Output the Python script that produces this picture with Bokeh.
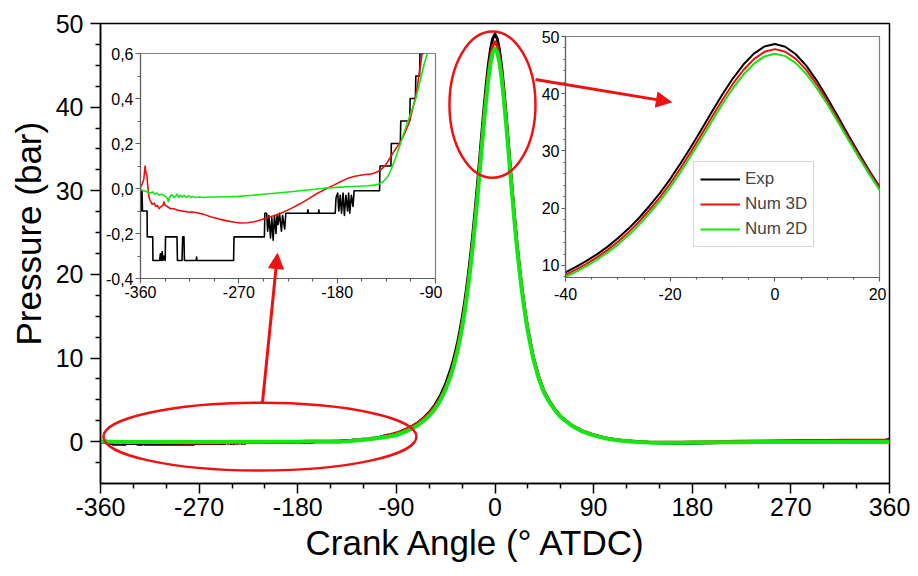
from bokeh.plotting import figure
from bokeh.models import (Range1d, FixedTicker, CustomJSTickFormatter, Legend, LegendItem,
                          Arrow, NormalHead, Title)
from bokeh.embed import file_html
from bokeh.resources import INLINE

# ---------------- data ----------------
series_names = ["Exp", "Num 3D", "Num 2D"]

# low-pressure part, -360 .. -90 deg (as seen in the left inset)
exp_lo_angle = [-360, -359.6, -359.0, -358.6, -358.2, -354.0, -353.8, -348.8, -348.6, -342.5, -341.8, -341.0,
                -340.2, -339.5, -338.6, -337.4, -337.1, -326.6, -326.2, -322.0, -321.4, -320.2, -319.8, -309.0,
                -308.7, -308.3, -274.8, -274.4, -246.6, -246.2, -244.5, -243.6, -242.5, -241.0, -239.8, -238.6,
                -237.4, -236.0, -235.0, -234.0, -232.8, -231.0, -230.0, -228.0, -227.0, -207.2, -206.8, -206.3,
                -197.2, -196.8, -196.3, -181.8, -181.0, -179.5, -178.5, -177.2, -176.0, -174.6, -173.4, -172.0,
                -170.5, -169.5, -168.5, -167.0, -165.5, -164.5, -141.2, -140.8, -130.8, -130.4, -122.2, -121.8,
                -113.6, -113.2, -108.4, -108.0, -104.6, -104.2, -101.6, -101.2, -98.4, -98.0, -95.2, -94.8,
                -92.2, -91.8]
exp_lo_value = [-0.01, -0.10, -0.10, -0.01, -0.10, -0.10, -0.215, -0.215, -0.32, -0.32, -0.29, -0.32,
                -0.28, -0.32, -0.30, -0.32, -0.215, -0.215, -0.32, -0.32, -0.215, -0.215, -0.32, -0.32,
                -0.305, -0.32, -0.32, -0.215, -0.215, -0.11, -0.11, -0.19, -0.12, -0.22, -0.13, -0.23,
                -0.12, -0.20, -0.12, -0.16, -0.11, -0.19, -0.12, -0.18, -0.11, -0.11, -0.095, -0.11,
                -0.11, -0.095, -0.11, -0.11, -0.04, -0.02, -0.10, -0.03, -0.11, -0.02, -0.12, -0.03,
                -0.10, -0.02, -0.11, -0.03, -0.08, -0.01, -0.01, 0.10, 0.10, 0.20, 0.20, 0.30,
                0.30, 0.40, 0.40, 0.50, 0.50, 0.60, 0.60, 0.70, 0.70, 0.80, 0.80, 0.90,
                0.90, 1.00]

num3d_lo_angle = [-360, -358.5, -357.0, -355.8, -355.0, -354.2, -353.5, -352.5, -351.5, -350.5, -349.3, -347.5,
                  -346.0, -344.5, -343.0, -341.0, -339.5, -338.6, -337.5, -335.5, -332.5, -329.5, -326.4, -322.0,
                  -317.3, -313.0, -308.1, -302.0, -295.9, -288.0, -280.7, -274.0, -268.5, -262.0, -256.3, -250.0,
                  -244.1, -236.0, -228.8, -221.0, -213.6, -206.0, -198.3, -190.5, -183.1, -177.0, -170.9, -164.8,
                  -158.7, -154.0, -149.5, -146.5, -143.4, -140.3, -137.3, -134.2, -131.2, -126.6, -122.0, -118.2,
                  -114.4, -111.3, -108.3, -106.3, -104.4, -102.2, -99.0, -96.0, -93.0]
num3d_lo_value = [0.005, 0.02, 0.04, 0.10, 0.07, 0.06, 0.02, -0.03, -0.05, -0.06, -0.07, -0.065,
                  -0.08, -0.075, -0.09, -0.08, -0.075, -0.06, -0.075, -0.08, -0.09, -0.09, -0.096, -0.10,
                  -0.104, -0.105, -0.108, -0.115, -0.126, -0.136, -0.144, -0.150, -0.153, -0.152, -0.148, -0.140,
                  -0.130, -0.118, -0.104, -0.086, -0.067, -0.045, -0.022, -0.002, 0.015, 0.030, 0.044, 0.053,
                  0.059, 0.062, 0.064, 0.068, 0.074, 0.083, 0.096, 0.115, 0.141, 0.175, 0.207, 0.245,
                  0.289, 0.345, 0.407, 0.465, 0.526, 0.60, 0.70, 0.80, 0.90]

num2d_lo_angle = [-360, -357, -354, -351, -349, -347, -345, -343, -341, -339, -337, -335.5,
                  -334.5, -333.5, -332, -331, -329.5, -328, -326.5, -325, -323.5, -322, -320, -318,
                  -316, -314, -312, -310, -306, -302, -296, -290, -280, -270, -260, -250,
                  -240, -230, -220, -210, -200, -190, -180, -170, -160, -152, -146, -142,
                  -138, -134, -131, -127, -122, -118, -113, -108, -104, -100.5, -97.5, -94]
num2d_lo_value = [-0.005, -0.01, -0.015, -0.02, -0.015, -0.025, -0.02, -0.03, -0.025, -0.03, -0.035, -0.045,
                  -0.058, -0.04, -0.03, -0.028, -0.04, -0.035, -0.025, -0.04, -0.03, -0.038, -0.03, -0.04,
                  -0.032, -0.04, -0.035, -0.04, -0.038, -0.04, -0.038, -0.038, -0.037, -0.035, -0.031, -0.027,
                  -0.022, -0.018, -0.013, -0.008, -0.003, 0.002, 0.005, 0.008, 0.010, 0.012, 0.015, 0.020,
                  0.030, 0.050, 0.080, 0.130, 0.200, 0.260, 0.330, 0.400, 0.480, 0.550, 0.600, 0.680]

# pressure around TDC, -90 .. 360 deg (common angles)
angle_hi = [-90, -85, -80, -75, -70, -65, -60, -55, -50, -45, -40, -38, -36, -34, -32, -30, -28, -26,
            -24, -22, -20, -18, -16, -14, -12, -10, -8, -6, -4, -2, 0, 2, 4, 6, 8, 10, 12, 14, 16, 18,
            20, 22, 24, 26, 28, 30, 35, 40, 45, 50, 55, 60, 70, 80, 90, 100, 110, 120, 130, 140, 150,
            160, 170, 180, 200, 220, 240, 260, 280, 300, 320, 340, 355, 360]
exp_hi = [1.00, 1.25, 1.55, 1.90, 2.30, 2.85, 3.50, 4.35, 5.45, 6.90, 8.80, 9.75, 10.80, 11.95, 13.25,
          14.75, 16.40, 18.25, 20.35, 22.60, 25.10, 27.85, 30.75, 33.80, 36.90, 39.90, 42.70, 45.10,
          47.00, 48.25, 48.70, 48.20, 46.90, 44.90, 42.30, 39.30, 36.10, 32.85, 29.70, 26.65, 23.80,
          21.30, 19.00, 16.95, 15.10, 13.45, 10.10, 7.70, 5.95, 4.75, 3.80, 3.00, 1.95, 1.25, 0.80,
          0.45, 0.22, 0.08, -0.02, -0.10, -0.15, -0.18, -0.20, -0.18, -0.12, -0.05, 0.00, 0.02, 0.05,
          0.06, 0.08, 0.10, 0.12, 0.30]
num3d_hi = [1.00, 1.24, 1.53, 1.87, 2.26, 2.79, 3.40, 4.20, 5.20, 6.55, 8.35, 9.27, 10.29, 11.41, 12.68,
            14.15, 15.78, 17.60, 19.65, 21.85, 24.30, 27.02, 29.89, 32.90, 35.97, 38.95, 41.75, 44.15,
            46.05, 47.32, 47.80, 47.33, 46.10, 44.18, 41.65, 38.75, 35.60, 32.42, 29.35, 26.35, 23.55,
            21.10, 18.83, 16.81, 14.98, 13.35, 10.05, 7.70, 5.97, 4.78, 3.83, 3.03, 1.98, 1.28, 0.82,
            0.47, 0.24, 0.10, 0.01, -0.05, -0.08, -0.08, -0.07, -0.05, 0.00, 0.05, 0.08, 0.10, 0.13,
            0.15, 0.17, 0.18, 0.18, 0.18]
num2d_hi = [0.80, 1.03, 1.30, 1.62, 2.00, 2.50, 3.10, 3.88, 4.90, 6.25, 8.00, 8.90, 9.90, 11.00, 12.25,
            13.65, 15.25, 17.05, 19.05, 21.25, 23.65, 26.35, 29.20, 32.20, 35.25, 38.20, 40.97, 43.35,
            45.25, 46.52, 47.00, 46.57, 45.35, 43.45, 41.00, 38.20, 35.15, 32.00, 28.95, 25.98, 23.20,
            20.78, 18.55, 16.55, 14.75, 13.13, 9.85, 7.50, 5.80, 4.65, 3.72, 2.94, 1.90, 1.20, 0.76,
            0.42, 0.19, 0.05, -0.04, -0.10, -0.12, -0.12, -0.12, -0.10, -0.08, -0.06, -0.05, -0.05, -0.04,
            -0.04, -0.03, -0.03, -0.03, -0.03]

# ticks
main_x_ticks = [-360, -270, -180, -90, 0, 90, 180, 270, 360]
main_x_minor = [-330, -300, -240, -210, -150, -120, -60, -30, 30, 60, 120, 150, 210, 240, 300, 330]
main_y_ticks = [0, 10, 20, 30, 40, 50]
main_y_minor = [-2.5, 2.5, 5, 7.5, 12.5, 15, 17.5, 22.5, 25, 27.5, 32.5, 35, 37.5, 42.5, 45, 47.5]
in1_x_ticks = [-360, -270, -180, -90]
in1_x_minor = [-337.5, -315, -292.5, -247.5, -225, -202.5, -157.5, -135, -112.5]
in1_y_ticks = [-0.4, -0.2, 0.0, 0.2, 0.4, 0.6]
in1_y_minor = [-0.3, -0.1, 0.1, 0.3, 0.5]
in2_x_ticks = [-40, -20, 0, 20]
in2_x_minor = [-35, -30, -25, -15, -10, -5, 5, 10, 15]
in2_y_ticks = [10, 20, 30, 40, 50]
in2_y_minor = [8, 12, 14, 16, 18, 22, 24, 26, 28, 32, 34, 36, 38, 42, 44, 46, 48]

x_title = "Crank Angle (° ATDC)"
y_title = "Pressure (bar)"

# ---------------- styling ----------------
FONT = "Liberation Sans"
COLORS = ["#000000", "#f20d0d", "#14e614"]
ANN = "#ee1111"
W, H = 918, 576

xs = [exp_lo_angle + angle_hi, num3d_lo_angle + angle_hi, num2d_lo_angle + angle_hi]
ys = [exp_lo_value + exp_hi, num3d_lo_value + num3d_hi, num2d_lo_value + num2d_hi]

ascii_fmt = "return tick.toString();"


def base(width, height, left_px, top_px, x_range, y_range, borders, axes=True):
    kw = {}
    if not axes:
        kw = dict(x_axis_location=None, y_axis_location=None)
    l, r, t, b = borders
    p = figure(width=width, height=height, x_range=x_range, y_range=y_range, toolbar_location=None,
               output_backend="svg", min_border_left=l, min_border_right=r,
               min_border_top=t, min_border_bottom=b, **kw)
    p.styles = {"position": "absolute", "left": f"{left_px}px", "top": f"{top_px}px"}
    p.grid.visible = False
    return p


def style_axes(p, tick_font, tick_out, minor_out, axis_color, lw, x_standoff, y_standoff):
    for ax in p.axis:
        ax.axis_line_color = axis_color
        ax.axis_line_width = lw
        ax.major_tick_line_color = axis_color
        ax.minor_tick_line_color = axis_color
        ax.major_tick_line_width = lw
        ax.minor_tick_line_width = lw
        ax.major_tick_in = 0
        ax.major_tick_out = tick_out
        ax.minor_tick_in = 0
        ax.minor_tick_out = minor_out
        ax.major_label_text_font = FONT
        ax.major_label_text_font_size = tick_font
        ax.major_label_text_color = "black"
    p.xaxis.major_label_standoff = x_standoff
    p.yaxis.major_label_standoff = y_standoff


# ---------------- main plot (frame 100..889 x 23..483) ----------------
main = base(W, H, 0, 0, Range1d(-360, 360), Range1d(-5, 50), (100, 29, 23, 93))
main.outline_line_color = "black"
main.outline_line_width = 1.5
main.background_fill_color = "white"
main.border_fill_color = "white"
main.xaxis.ticker = FixedTicker(ticks=main_x_ticks, minor_ticks=main_x_minor)
main.yaxis.ticker = FixedTicker(ticks=main_y_ticks, minor_ticks=main_y_minor)
main.xaxis.formatter = CustomJSTickFormatter(code=ascii_fmt)
style_axes(main, "25px", 10, 5, "black", 1.5, 4, 7)
main.add_layout(Title(text=x_title, align="left", offset=205, standoff=4, text_font=FONT,
                      text_font_size="35px", text_font_style="normal", text_color="black"), "below")
main.add_layout(Title(text=y_title, align="left", offset=138, standoff=10, text_font=FONT,
                      text_font_size="35px", text_font_style="normal", text_color="black"), "left")
for x, y, c, w in zip(xs, ys, COLORS, [3, 3, 4]):
    main.line(x, y, line_color=c, line_width=w, line_join="round")

# ---------------- left inset (frame 140..435 x 53..278) ----------------
in1 = base(340, 263, 102, 45, Range1d(-360, -90), Range1d(-0.4, 0.6), (38, 7, 8, 30))
in1.outline_line_color = "#808080"
in1.outline_line_width = 1.2
in1.background_fill_color = "white"
in1.border_fill_color = "white"
in1.xaxis.ticker = FixedTicker(ticks=in1_x_ticks, minor_ticks=in1_x_minor)
in1.yaxis.ticker = FixedTicker(ticks=in1_y_ticks, minor_ticks=in1_y_minor)
in1.xaxis.formatter = CustomJSTickFormatter(code=ascii_fmt)
in1.yaxis.formatter = CustomJSTickFormatter(code="return tick.toFixed(1).replace('.', ',');")
style_axes(in1, "16px", 5, 3, "#606060", 1.2, 2, 2)
for x, y, c in zip(xs, ys, COLORS):
    in1.line(x, y, line_color=c, line_width=1.6, line_join="round")

# ---------------- right inset (frame 565..879 x 36..277) ----------------
in2 = base(359, 279, 527, 28, Range1d(-40, 20), Range1d(7.9, 50), (38, 7, 8, 30))
in2.outline_line_color = "#808080"
in2.outline_line_width = 1.2
in2.background_fill_color = "white"
in2.border_fill_color = "white"
in2.xaxis.ticker = FixedTicker(ticks=in2_x_ticks, minor_ticks=in2_x_minor)
in2.yaxis.ticker = FixedTicker(ticks=in2_y_ticks, minor_ticks=in2_y_minor)
in2.xaxis.formatter = CustomJSTickFormatter(code=ascii_fmt)
style_axes(in2, "16px", 4, 2, "#606060", 1.2, 6, 2)
rends = []
for x, y, c in zip(xs, ys, COLORS):
    rends.append(in2.line(x, y, line_color=c, line_width=2, line_join="round"))
legend = Legend(items=[LegendItem(label=n, renderers=[r]) for n, r in zip(series_names, rends)],
                location=(128, 30), glyph_width=40, glyph_height=22, label_height=22, spacing=3,
                padding=6, margin=0, label_standoff=5, label_text_font=FONT, label_text_font_size="17px",
                border_line_color="#b0b0b0", border_line_width=1.5, background_fill_color="white",
                background_fill_alpha=1.0)
in2.add_layout(legend)

# ---------------- overlay: ellipses and arrows on top of everything ----------------
ov = base(W, H, 0, 0, main.x_range, main.y_range, (100, 29, 23, 93), axes=False)
ov.outline_line_color = None
ov.background_fill_color = None
ov.border_fill_color = None
ov.ellipse(x=[-214.5, -2.3], y=[0.6, 40.3], width=[285.6, 78.5], height=[8.1, 17.5],
           fill_color=None, line_color=ANN, line_width=2.5)
ov.add_layout(Arrow(end=NormalHead(size=15, fill_color=ANN, line_color=ANN),
                    x_start=-212.2, y_start=4.65, x_end=-198.5, y_end=22.5,
                    line_color=ANN, line_width=3))
ov.add_layout(Arrow(end=NormalHead(size=15, fill_color=ANN, line_color=ANN),
                    x_start=36.9, y_start=43.3, x_end=161.0, y_end=40.6,
                    line_color=ANN, line_width=3))

open("out.html", "w").write(file_html([main, in1, in2, ov], INLINE))
